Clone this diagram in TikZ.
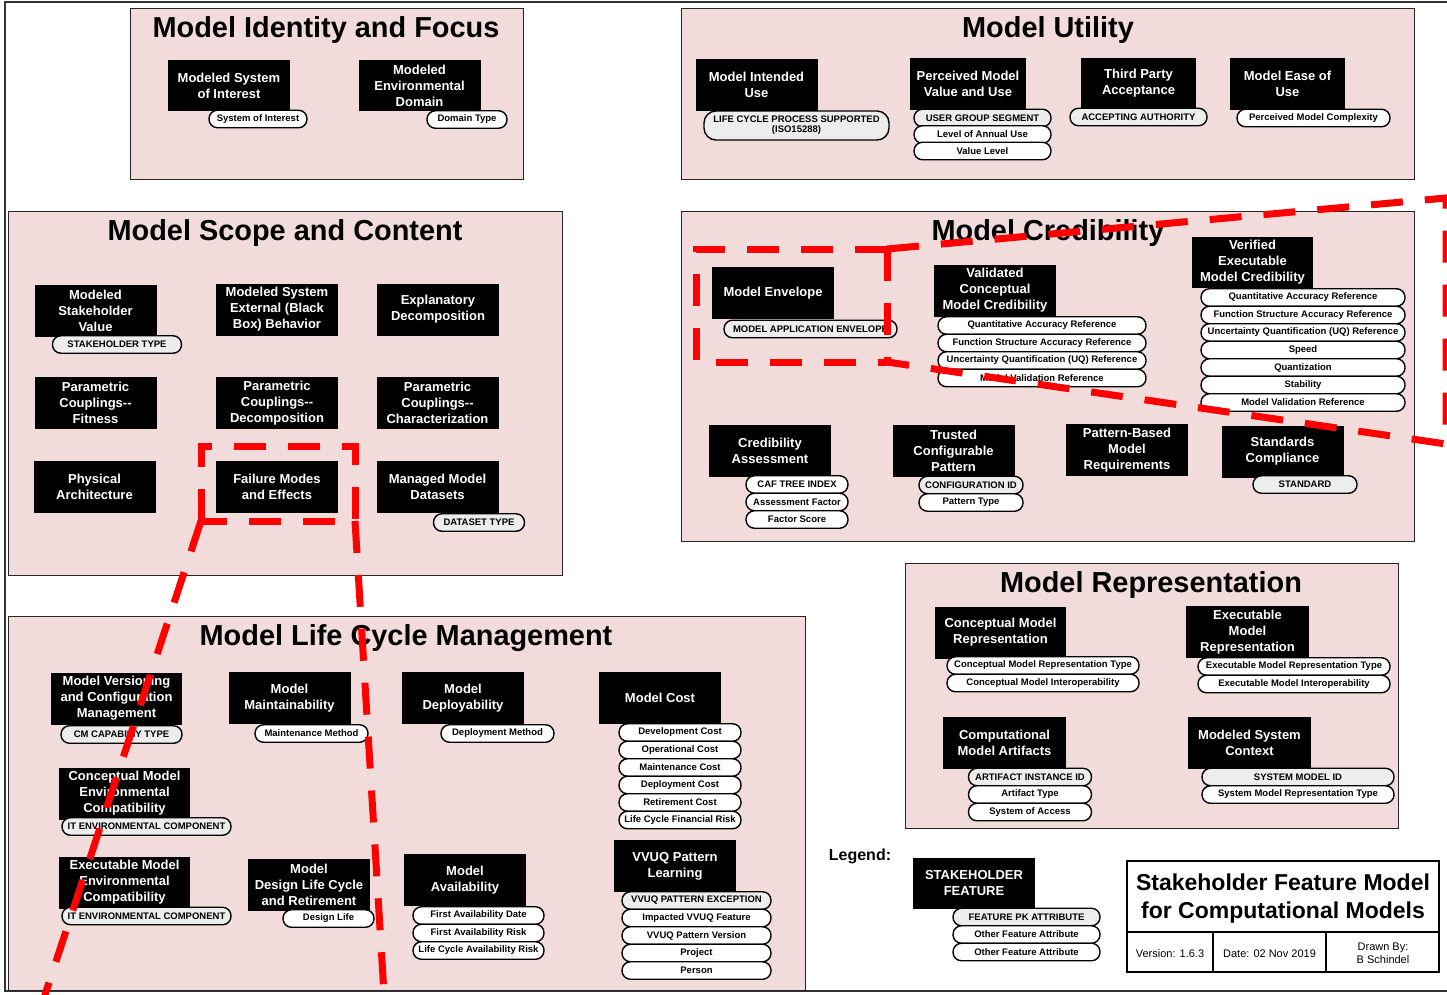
\documentclass[tikz,border=0pt]{standalone}
\usepackage{fontspec}
\setmainfont{Liberation Sans}
\definecolor{panelpink}{HTML}{F2DCDB}
\definecolor{pkgray}{HTML}{EDEDED}

\begin{document}
\begin{tikzpicture}[x=1pt, y=-1pt,
  % pixel grid of the sheet: x to the right, y downwards
  panel/.style={draw=black!85, fill=panelpink, line width=0.9pt},
  ptitle/.style={font=\fontsize{28.9}{31}\selectfont\bfseries},
  feat/.style={fill=black, text=white, align=center, inner sep=0pt,
               minimum width=122pt, minimum height=52pt,
               font=\fontsize{13}{16}\selectfont\bfseries},
  attr/.style={rectangle, rounded corners=8.5pt, draw=black, line width=1.4pt, fill=white,
               inner sep=0pt, minimum height=17.5pt, align=center,
               font=\fontsize{9.5}{10}\selectfont\bfseries},
  pk/.style={attr, fill=pkgray},
  redline/.style={draw=red, line width=7pt, dash pattern=on 32pt off 22pt}
]
\useasboundingbox (0,0) rectangle (1447,994);
\clip (0,0) rectangle (1447,994);
\draw[line width=1.5pt, black!80] (5,2) rectangle (1480,991);

% ---- panels
\draw[panel] (130,8) rectangle (523,179);
\draw[panel] (681,8) rectangle (1414,179);
\draw[panel] (8,211) rectangle (562,575);
\draw[panel] (681,211) rectangle (1414,541);
\draw[panel] (8,616) rectangle (805,990);
\draw[panel] (905,563) rectangle (1398,828);

\node[ptitle] (t-ident) at (326,30) {Model Identity and Focus};
\node[ptitle] (t-util) at (1048,30) {Model Utility};
\node[ptitle] (t-scope) at (285,233) {Model Scope and Content};
\node[ptitle] (t-cred) at (1048,233) {Model Credibility};
\node[ptitle] (t-life) at (406,638) {Model Life Cycle Management};
\node[ptitle] (t-repr) at (1151,585) {Model Representation};

% ---- Model Identity and Focus
\node[feat, minimum height=51pt] (sysint) at (229,85.5) {Modeled System\\of Interest};
\node[attr, minimum width=98pt] (sysint-1) at (258,119) {System of Interest};
\node[feat, minimum height=51pt] (envdom) at (419.5,85.5) {Modeled\\Environmental\\Domain};
\node[attr, minimum width=80pt] (envdom-1) at (467,119.5) {Domain Type};

% ---- Model Utility
\node[feat] (intuse) at (756.5,85) {Model Intended\\Use};
\node[pk, minimum width=185pt, minimum height=29pt, rounded corners=12pt] (intuse-1) at (796.5,125.5)
  {LIFE CYCLE PROCESS SUPPORTED\\(ISO15288)};
\node[feat, minimum width=116pt] (percval) at (968,84) {Perceived Model\\Value and Use};
\node[pk, minimum width=137pt] (percval-0) at (982.5,118) {USER GROUP SEGMENT};
\foreach \t [count=\i] in {Level of Annual Use, Value Level}
  \node[attr, minimum width=137pt] (percval-\i) at (982.5,118+16.5*\i) {\t};
\node[feat, minimum width=115pt, minimum height=50pt] (thirdp) at (1138.5,83) {Third Party\\Acceptance};
\node[pk, minimum width=137pt] (thirdp-1) at (1138.5,117) {ACCEPTING AUTHORITY};
\node[feat, minimum width=115pt] (easeuse) at (1287.5,84) {Model Ease of\\Use};
\node[attr, minimum width=153pt] (easeuse-1) at (1313.5,118) {Perceived Model Complexity};

% ---- Model Scope and Content
\node[feat] (stakeval) at (95.5,311) {Modeled\\Stakeholder\\Value};
\node[pk, minimum width=129pt] (stakeval-1) at (117,344.5) {STAKEHOLDER TYPE};
\node[feat] (blackbox) at (277,309.5) {Modeled System\\External (Black\\Box) Behavior};
\node[feat] (explan) at (438,309.5) {Explanatory\\Decomposition};
\node[feat] (pcfit) at (95.5,403) {Parametric\\Couplings-{}-\\Fitness};
\node[feat] (pcdecomp) at (277,403) {Parametric\\Couplings-{}-\\Decomposition};
\node[feat] (pcchar) at (437.5,403) {Parametric\\Couplings-{}-\\Characterization};
\node[feat] (physarch) at (94.5,487) {Physical\\Architecture};
\node[feat] (fmea) at (277,487) {Failure Modes\\and Effects};
\node[feat] (datasets) at (437.5,487) {Managed Model\\Datasets};
\node[pk, minimum width=91pt] (datasets-1) at (479,522.5) {DATASET TYPE};

% ---- Model Credibility
\node[feat] (envelope) at (773,293) {Model Envelope};
\node[pk, minimum width=173pt] (envelope-1) at (810.5,329) {MODEL APPLICATION ENVELOPE};
\node[feat] (valconc) at (995,290.5) {Validated\\Conceptual\\Model Credibility};
\foreach \t [count=\i from 0] in {Quantitative Accuracy Reference,
    Function Structure Accuracy Reference, Uncertainty Quantification (UQ) Reference,
    Model Validation Reference}
  \node[attr, minimum width=208pt] (valconc-\i) at (1042,325.5+17.5*\i) {\t};
\node[feat, minimum width=121pt, minimum height=51pt] (verexec) at (1252.5,262.5)
  {Verified\\Executable\\Model Credibility};
\foreach \t [count=\i from 0] in {Quantitative Accuracy Reference,
    Function Structure Accuracy Reference, Uncertainty Quantification (UQ) Reference,
    Speed, Quantization, Stability, Model Validation Reference}
  \node[attr, minimum width=204pt] (verexec-\i) at (1303,297.5+17.5*\i) {\t};
\node[feat] (credass) at (770,450.5) {Credibility\\Assessment};
\foreach \t [count=\i from 0] in {CAF TREE INDEX, Assessment Factor, Factor Score}
  \node[attr, minimum width=102pt] (credass-\i) at (797,484.5+17.5*\i) {\t};
\node[feat] (trusted) at (953.5,451) {Trusted\\Configurable\\Pattern};
\node[pk, minimum width=104pt] (trusted-0) at (971,485) {CONFIGURATION ID};
\node[attr, minimum width=104pt] (trusted-1) at (971,502.5) {Pattern Type};
\node[feat] (patreq) at (1127,450) {Pattern-Based\\Model\\Requirements};
\node[feat] (standards) at (1282.5,451.5) {Standards\\Compliance};
\node[pk, minimum width=104pt] (standards-1) at (1305,484.5) {STANDARD};

% ---- Model Life Cycle Management
\node[feat, minimum width=131pt] (version) at (116.5,698.5) {Model Versioning\\and Configuration\\Management};
\node[pk, minimum width=121pt] (version-1) at (121.5,734.5) {CM CAPABILIY TYPE};
\node[feat] (maintain) at (289.5,698) {Model\\Maintainability};
\node[attr, minimum width=113pt] (maintain-1) at (311.5,733.5) {Maintenance Method};
\node[feat] (deploy) at (463,698) {Model\\Deployability};
\node[attr, minimum width=113pt] (deploy-1) at (497.5,733.5) {Deployment Method};
\node[feat] (cost) at (660,698) {Model Cost};
\foreach \t [count=\i from 0] in {Development Cost, Operational Cost, Maintenance Cost,
    Deployment Cost, Retirement Cost, Life Cycle Financial Risk}
  \node[attr, minimum width=122pt] (cost-\i) at (680,732.5+17.5*\i) {\t};
\node[feat, minimum width=131pt] (concenv) at (124.5,793.5) {Conceptual Model\\Environmental\\Compatibility};
\node[pk, minimum width=169pt] (concenv-1) at (146.5,826.5) {IT ENVIRONMENTAL COMPONENT};
\node[feat, minimum width=131pt] (execenv) at (124.5,882.5) {Executable Model\\Environmental\\Compatibility};
\node[pk, minimum width=169pt] (execenv-1) at (146.5,916) {IT ENVIRONMENTAL COMPONENT};
\node[feat] (designlife) at (309,885) {Model\\Design Life Cycle\\and Retirement};
\node[attr, minimum width=91pt] (designlife-1) at (328.5,918.5) {Design Life};
\node[feat] (avail) at (465,880) {Model\\Availability};
\foreach \t [count=\i from 0] in {First Availability Date, First Availability Risk,
    Life Cycle Availability Risk}
  \node[attr, minimum width=131pt] (avail-\i) at (478.5,915.5+17.5*\i) {\t};
\node[feat] (vvuq) at (675,866) {VVUQ Pattern\\Learning};
\node[pk, minimum width=149pt] (vvuq-0) at (696.5,900.5) {VVUQ PATTERN EXCEPTION};
\foreach \t [count=\i] in {Impacted VVUQ Feature, VVUQ Pattern Version, Project, Person}
  \node[attr, minimum width=149pt] (vvuq-\i) at (696.5,900.5+17.5*\i) {\t};

% ---- Model Representation
\node[feat, minimum width=131pt] (concrep) at (1000.5,632.5) {Conceptual Model\\Representation};
\foreach \t [count=\i from 0] in {Conceptual Model Representation Type,
    Conceptual Model Interoperability}
  \node[attr, minimum width=192pt] (concrep-\i) at (1043,665.5+17.5*\i) {\t};
\node[feat, minimum width=123pt] (execrep) at (1247.5,632) {Executable\\Model\\Representation};
\foreach \t [count=\i from 0] in {Executable Model Representation Type,
    Executable Model Interoperability}
  \node[attr, minimum width=192pt] (execrep-\i) at (1294,666.5+17.5*\i) {\t};
\node[feat, minimum width=123pt] (compart) at (1004.5,743) {Computational\\Model Artifacts};
\node[pk, minimum width=123pt] (compart-0) at (1030,777) {ARTIFACT INSTANCE ID};
\foreach \t [count=\i] in {Artifact Type, System of Access}
  \node[attr, minimum width=123pt] (compart-\i) at (1030,777+17.5*\i) {\t};
\node[feat, minimum width=123pt] (sysctx) at (1249.5,743) {Modeled System\\Context};
\node[pk, minimum width=192pt] (sysctx-0) at (1298,777) {SYSTEM MODEL ID};
\node[attr, minimum width=192pt] (sysctx-1) at (1298,794.5) {System Model Representation Type};

% ---- highlighted regions
\draw[redline] (887,249) -- (696,249) -- (696,362) -- (887,362);
\draw[redline] (887,249) -- (887,362);
\draw[redline] (887,249) -- (1446,198) -- (1446,444) -- (887,362);
\draw[redline] (201,521) -- (201,446) -- (355,446) -- (355,521) -- cycle;
\draw[redline] (201,521) -- (40,1010);
\draw[redline] (355,521) -- (385,1010);

% ---- legend
\node[font=\fontsize{16}{18}\selectfont\bfseries] (legend) at (860,856) {Legend:};
\node[feat, minimum height=51pt] (lfeat) at (974,883.5) {STAKEHOLDER\\FEATURE};
\node[pk, minimum width=147pt] (lfeat-0) at (1026.5,917) {FEATURE PK ATTRIBUTE};
\foreach \i in {1,2}
  \node[attr, minimum width=147pt] (lfeat-\i) at (1026.5,917+17.5*\i) {Other Feature Attribute};

% ---- title block
\draw[line width=1.8pt] (1127,861) rectangle (1439,972);
\draw[line width=1.5pt] (1127,932) -- (1439,932) (1213,932) -- (1213,972) (1326,932) -- (1326,972);
\node[font=\fontsize{23}{28}\selectfont\bfseries, align=center] (tbtitle) at (1283,899)
  {Stakeholder Feature Model\\for Computational Models};
\node[font=\fontsize{11}{13}\selectfont] (tbver) at (1170,954) {Version: 1.6.3};
\node[font=\fontsize{11}{13}\selectfont] (tbdate) at (1269.5,954) {Date: 02 Nov 2019};
\node[font=\fontsize{11}{13}\selectfont, align=center] (tbdrawn) at (1383,953) {Drawn By:\\B Schindel};
\end{tikzpicture}
\end{document}
